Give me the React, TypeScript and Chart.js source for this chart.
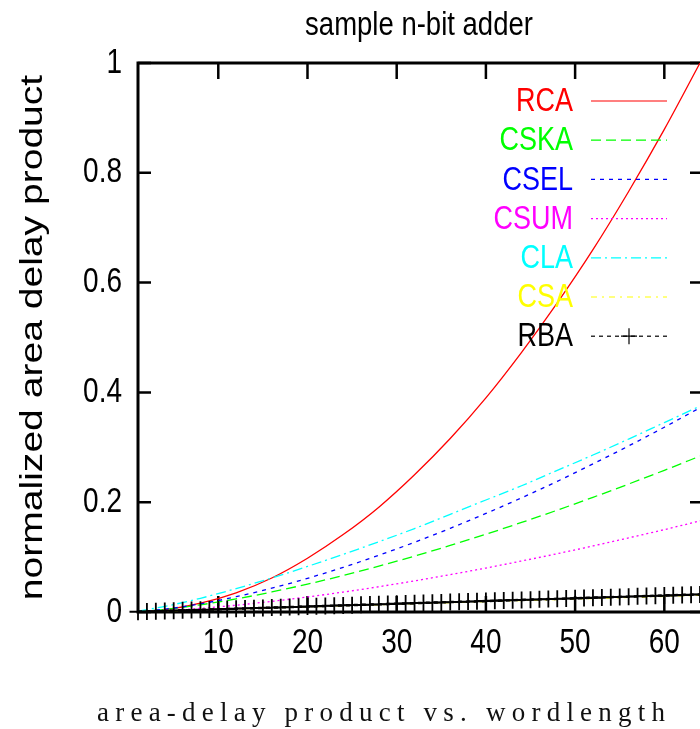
import React, { useEffect, useRef } from "react";
import { Chart, registerables } from "chart.js";

Chart.register(...registerables);

const TITLE = "sample n-bit adder";
const X_TITLE = "area-delay product vs. wordlength";
const Y_TITLE = "normalized area delay product";

const X_TICKS = [10, 20, 30, 40, 50, 60];
const X_TICK_LABELS = ["10", "20", "30", "40", "50", "60"];
const Y_TICKS = [0, 0.2, 0.4, 0.6, 0.8, 1];
const Y_TICK_LABELS = ["0", "0.2", "0.4", "0.6", "0.8", "1"];

// sampled word lengths for the smooth curves
const SAMPLE_X = [1, 4, 8, 12, 16, 20, 24, 28, 32, 36, 40, 44, 48, 52, 56, 60, 64];
const RCA = [0.0002, 0.004, 0.016, 0.035, 0.062, 0.098, 0.141, 0.191, 0.25, 0.316, 0.39, 0.473, 0.563, 0.66, 0.766, 0.879, 1.0];
const CSKA = [0.0006, 0.0047, 0.0131, 0.0238, 0.0365, 0.0508, 0.0665, 0.0836, 0.1018, 0.1212, 0.1417, 0.1631, 0.1855, 0.2089, 0.2331, 0.2581, 0.284];
const CSEL = [0.0006, 0.0051, 0.0148, 0.0278, 0.0434, 0.0613, 0.0814, 0.1033, 0.127, 0.1525, 0.1795, 0.208, 0.238, 0.2697, 0.3025, 0.3366, 0.372];
const CSUM = [0.0003, 0.0023, 0.0066, 0.0124, 0.0194, 0.0274, 0.0363, 0.0461, 0.0567, 0.0681, 0.0801, 0.0929, 0.1062, 0.1203, 0.135, 0.15, 0.166];
const CLA = [0.0017, 0.0102, 0.025, 0.0426, 0.062, 0.083, 0.105, 0.128, 0.152, 0.178, 0.204, 0.23, 0.258, 0.286, 0.315, 0.345, 0.375];
const CSA = [0.0004, 0.0019, 0.0038, 0.0057, 0.0076, 0.0095, 0.0114, 0.0133, 0.0152, 0.0171, 0.019, 0.0209, 0.0228, 0.0247, 0.0266, 0.0285, 0.0304];

// RBA has a marker at every word length
const RBA_X = [
  1, 2, 3, 4, 5, 6, 7, 8, 9, 10, 11, 12, 13, 14, 15, 16,
  17, 18, 19, 20, 21, 22, 23, 24, 25, 26, 27, 28, 29, 30, 31, 32,
  33, 34, 35, 36, 37, 38, 39, 40, 41, 42, 43, 44, 45, 46, 47, 48,
  49, 50, 51, 52, 53, 54, 55, 56, 57, 58, 59, 60, 61, 62, 63, 64,
];
const RBA = [
  0.0005, 0.001, 0.0015, 0.002, 0.0025, 0.003, 0.0035, 0.004, 0.0045, 0.005, 0.0055, 0.006, 0.0065, 0.007, 0.0075, 0.008,
  0.0085, 0.009, 0.0095, 0.01, 0.0105, 0.011, 0.0115, 0.012, 0.0125, 0.013, 0.0135, 0.014, 0.0145, 0.015, 0.0155, 0.016,
  0.0165, 0.017, 0.0175, 0.018, 0.0185, 0.019, 0.0195, 0.02, 0.0205, 0.021, 0.0215, 0.022, 0.0225, 0.023, 0.0235, 0.024,
  0.0245, 0.025, 0.0255, 0.026, 0.0265, 0.027, 0.0275, 0.028, 0.0285, 0.029, 0.0295, 0.03, 0.0305, 0.031, 0.0315, 0.032,
];

const SANS = '"Liberation Sans", Arial, Helvetica, sans-serif';
const STRETCH = 1.24;

const pts = (xs: number[], ys: number[]) => xs.map((x, i) => ({ x, y: ys[i] }));

function tallText(ctx: CanvasRenderingContext2D, text: string, x: number, y: number, size: number, align: CanvasTextAlign, color: string) {
  ctx.save();
  ctx.translate(x, y);
  ctx.scale(1, STRETCH);
  ctx.font = `${size}px ${SANS}`;
  ctx.textAlign = align;
  ctx.textBaseline = "middle";
  ctx.fillStyle = color;
  ctx.fillText(text, 0, 0);
  ctx.restore();
}

const decorPlugin = {
  id: "decor",
  beforeDatasetsDraw(chart: any) {
    const { ctx, chartArea: a, scales } = chart;
    ctx.save();
    ctx.strokeStyle = "#000";
    ctx.lineCap = "butt";
    ctx.lineWidth = 3;
    ctx.beginPath();
    ctx.moveTo(a.left, a.bottom + 1.5);
    ctx.lineTo(a.left, a.top);
    ctx.lineTo(a.right + 3, a.top);
    ctx.moveTo(a.left - 1.5, a.bottom);
    ctx.lineTo(a.right + 3, a.bottom);
    ctx.stroke();
    ctx.lineWidth = 2.5;
    ctx.beginPath();
    for (const v of Y_TICKS) {
      const y = scales.y.getPixelForValue(v);
      ctx.moveTo(a.left, y);
      ctx.lineTo(a.left + 13, y);
      ctx.moveTo(a.right + 2 - 12, y);
      ctx.lineTo(a.right + 2, y);
    }
    for (const v of X_TICKS) {
      const x = scales.x.getPixelForValue(v);
      ctx.moveTo(x, a.bottom);
      ctx.lineTo(x, a.bottom - 16);
      ctx.moveTo(x, a.top);
      ctx.lineTo(x, a.top + 16);
    }
    ctx.stroke();
    ctx.restore();
  },
  afterDraw(chart: any) {
    const { ctx, chartArea: a, scales } = chart;
    ctx.save();
    // tick labels
    Y_TICKS.forEach((v, i) => {
      tallText(ctx, Y_TICK_LABELS[i], a.left - 16, scales.y.getPixelForValue(v), 28, "right", "#000");
    });
    X_TICKS.forEach((v, i) => {
      tallText(ctx, X_TICK_LABELS[i], scales.x.getPixelForValue(v), a.bottom + 31, 28, "center", "#000");
    });
    // title
    tallText(ctx, TITLE, (a.left + a.right) / 2, 26, 27.5, "center", "#000");

    // y axis title (rotated, stretched along its length)
    ctx.save();
    ctx.translate(33, (a.top + a.bottom) / 2);
    ctx.rotate(-Math.PI / 2);
    ctx.scale(STRETCH, 1);
    ctx.font = `31.5px ${SANS}`;
    ctx.textAlign = "center";
    ctx.textBaseline = "middle";
    ctx.fillStyle = "#000";
    ctx.fillText(Y_TITLE, 0, 0);
    ctx.restore();

    // x axis title, spaced serif
    ctx.font = '27px "Liberation Serif", "DejaVu Serif", serif';
    ctx.textAlign = "left";
    ctx.textBaseline = "alphabetic";
    const plain = ctx.measureText(X_TITLE).width;
    const ls = Math.max(0, (568 - plain) / (X_TITLE.length - 1));
    (ctx as any).letterSpacing = `${ls}px`;
    ctx.fillStyle = "#111";
    ctx.fillText(X_TITLE, 97, 721);
    (ctx as any).letterSpacing = "0px";

    // legend
    const sets = chart.data.datasets;
    sets.forEach((ds: any, i: number) => {
      const y = 101 + i * 39.2;
      tallText(ctx, ds.label, 573, y + 1, 27, "right", ds.borderColor);
      ctx.strokeStyle = ds.borderColor;
      ctx.lineWidth = 1.2;
      ctx.setLineDash(ds.borderDash || []);
      ctx.beginPath();
      ctx.moveTo(591, y);
      ctx.lineTo(667, y);
      ctx.stroke();
      ctx.setLineDash([]);
      if (ds.pointStyle === "cross") {
        ctx.lineWidth = 1.2;
        ctx.beginPath();
        ctx.moveTo(629 - 8, y);
        ctx.lineTo(629 + 8, y);
        ctx.moveTo(629, y - 8);
        ctx.lineTo(629, y + 8);
        ctx.stroke();
      }
    });
    ctx.restore();
  },
};

export default function App() {
  const ref = useRef<HTMLCanvasElement | null>(null);
  useEffect(() => {
    if (!ref.current) return;
    const line = (label: string, ys: number[], color: string, dash: number[], order: number) => ({
      label,
      data: pts(SAMPLE_X, ys),
      borderColor: color,
      backgroundColor: color,
      borderWidth: 1.3,
      borderDash: dash,
      pointRadius: 0,
      cubicInterpolationMode: "monotone" as const,
      order,
    });
    const chart = new Chart(ref.current, {
      type: "line",
      data: {
        datasets: [
          line("RCA", RCA, "#ff0000", [], 6),
          line("CSKA", CSKA, "#00ff00", [10, 5], 5),
          line("CSEL", CSEL, "#0000ff", [4, 5], 4),
          line("CSUM", CSUM, "#ff00ff", [2, 3], 3),
          line("CLA", CLA, "#00ffff", [10, 4, 2, 4], 2),
          line("CSA", CSA, "#ffff00", [6, 5, 2, 5], 1),
          {
            label: "RBA",
            data: pts(RBA_X, RBA),
            borderColor: "#000000",
            backgroundColor: "#000000",
            borderWidth: 2.5,
            borderDash: [4, 4],
            pointStyle: "cross",
            pointRadius: 8.5,
            pointBorderWidth: 1.8,
            pointBorderColor: "#000000",
            clip: false,
            order: 0,
          } as any,
        ],
      },
      options: {
        animation: false,
        responsive: false,
        devicePixelRatio: 1,
        layout: { autoPadding: false, padding: { top: 63, right: 0, bottom: 117, left: 138 } },
        plugins: {
          legend: { display: false },
          title: { display: false },
          tooltip: { enabled: false },
        },
        scales: {
          x: {
            type: "linear",
            display: false,
            min: 1,
            max: 64,
          },
          y: {
            type: "linear",
            display: false,
            min: 0,
            max: 1,
          },
        },
      },
      plugins: [decorPlugin],
    });
    return () => chart.destroy();
  }, []);
  return (
    <div style={{ position: "absolute", left: 0, top: 0, width: 700, height: 729, background: "#fff" }}>
      <canvas ref={ref} width={700} height={729} style={{ display: "block" }} />
    </div>
  );
}
